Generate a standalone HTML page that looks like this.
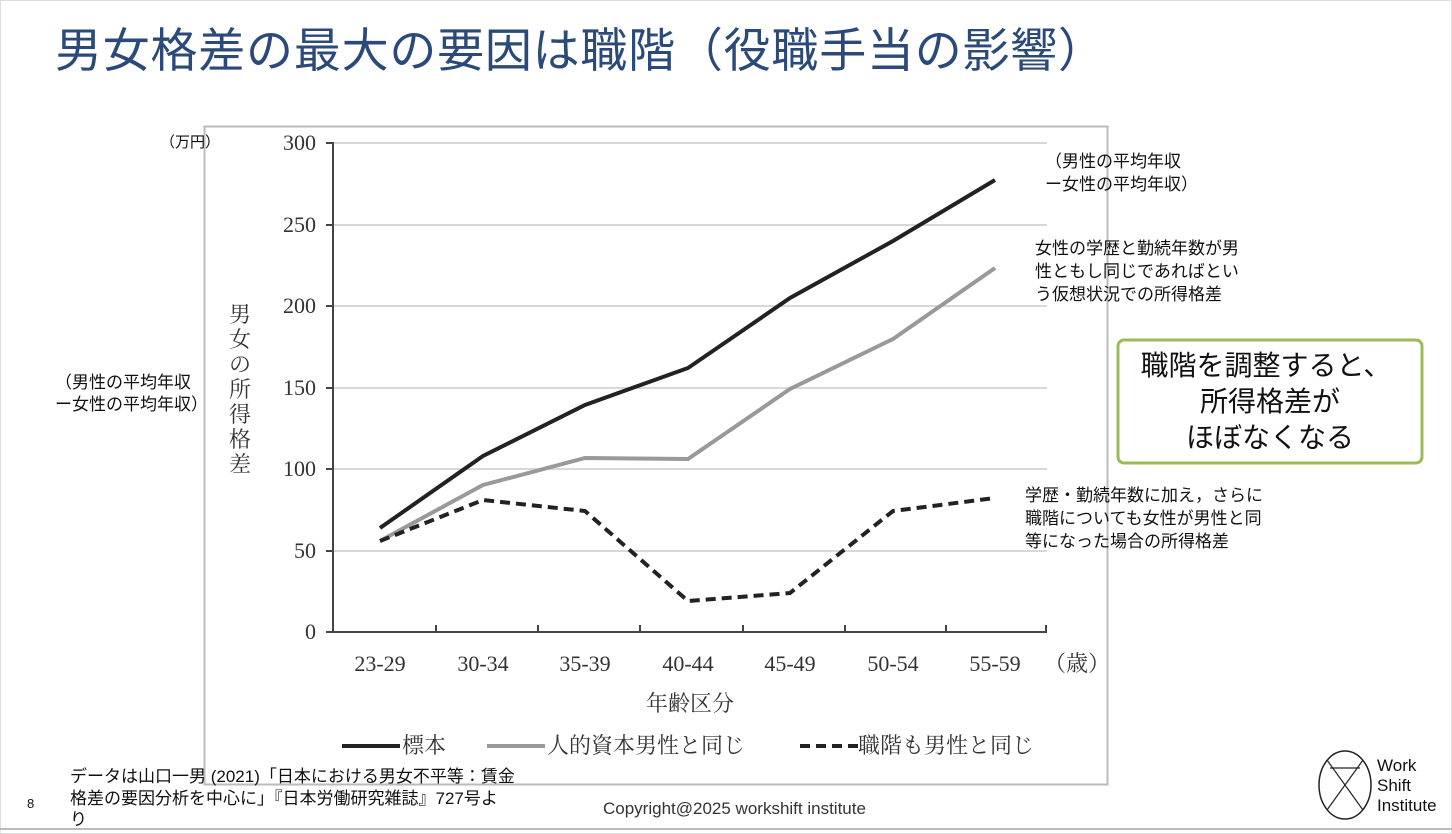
<!DOCTYPE html>
<html><head><meta charset="utf-8"><style>
body{margin:0;width:1452px;height:834px;background:#fff;overflow:hidden;font-family:"Liberation Sans","Noto Sans CJK JP",sans-serif;}
svg{position:absolute;left:0;top:0}
</style></head><body>
<svg width="1452" height="834" xmlns="http://www.w3.org/2000/svg" font-family="Liberation Sans, Noto Sans CJK JP, sans-serif">
<rect x="0.5" y="0.5" width="1451" height="833" fill="none" stroke="#ddd"/>
<text x="55" y="67" font-size="47" fill="#2b4a7a" textLength="1050">男女格差の最大の要因は職階（役職手当の影響）</text>
<rect x="204.5" y="126.5" width="903" height="658" fill="#fff" stroke="#bbb" stroke-width="2"/>
<g stroke="#ccc" stroke-width="1.5">
<line x1="333" y1="143" x2="1047" y2="143"/><line x1="333" y1="225" x2="1047" y2="225"/><line x1="333" y1="306" x2="1047" y2="306"/><line x1="333" y1="388" x2="1047" y2="388"/><line x1="333" y1="469" x2="1047" y2="469"/><line x1="333" y1="551" x2="1047" y2="551"/>
</g>
<g stroke="#444" stroke-width="2">
<line x1="333" y1="142" x2="333" y2="633"/><line x1="332" y1="632" x2="1047" y2="632"/>
<line x1="326" y1="143" x2="333" y2="143"/><line x1="326" y1="225" x2="333" y2="225"/><line x1="326" y1="306" x2="333" y2="306"/><line x1="326" y1="388" x2="333" y2="388"/><line x1="326" y1="469" x2="333" y2="469"/><line x1="326" y1="551" x2="333" y2="551"/><line x1="326" y1="632" x2="333" y2="632"/>
<line x1="436" y1="625" x2="436" y2="632"/><line x1="538" y1="625" x2="538" y2="632"/><line x1="640" y1="625" x2="640" y2="632"/><line x1="743" y1="625" x2="743" y2="632"/><line x1="845" y1="625" x2="845" y2="632"/><line x1="946" y1="625" x2="946" y2="632"/><line x1="1046" y1="625" x2="1046" y2="632"/>
</g>
<g font-family="Liberation Serif, Noto Serif CJK SC, serif" font-size="22" fill="#333" text-anchor="end">
<text x="316" y="150">300</text><text x="316" y="232">250</text><text x="316" y="313">200</text><text x="316" y="395">150</text><text x="316" y="476">100</text><text x="316" y="558">50</text><text x="316" y="639">0</text>
</g>
<g font-family="Liberation Serif, Noto Serif CJK SC, serif" font-size="22" fill="#333" text-anchor="middle">
<text x="380" y="671">23-29</text><text x="483" y="671">30-34</text><text x="585" y="671">35-39</text><text x="688" y="671">40-44</text><text x="790" y="671">45-49</text><text x="893" y="671">50-54</text><text x="995" y="671">55-59</text>
<text x="1077" y="671">（歳）</text>
<text x="690" y="711">年齢区分</text>
</g>
<g font-family="Noto Serif CJK SC, serif" font-size="22" fill="#333" text-anchor="middle">
<text x="240" y="322">男</text><text x="240" y="347">女</text><text x="240" y="372">の</text><text x="240" y="397">所</text><text x="240" y="422">得</text><text x="240" y="447">格</text><text x="240" y="472">差</text>
</g>
<polyline fill="none" stroke="#222" stroke-width="4" points="380,528 483,456 585,405 688,368 790,298 893,241 995,180"/>
<polyline fill="none" stroke="#999" stroke-width="4" points="380,541 483,485 585,458 688,459 790,389 893,339 995,268"/>
<polyline fill="none" stroke="#222" stroke-width="4" stroke-dasharray="10,6" points="380,541 483,500 585,511 688,601 790,593 893,511 995,498"/>
<line x1="342" y1="746" x2="400" y2="746" stroke="#222" stroke-width="4"/>
<line x1="487" y1="746" x2="545" y2="746" stroke="#999" stroke-width="4"/>
<line x1="800" y1="746" x2="858" y2="746" stroke="#222" stroke-width="4" stroke-dasharray="10,6"/>
<g font-family="Noto Serif CJK SC, serif" font-size="22" fill="#333">
<text x="402" y="753">標本</text><text x="547" y="753">人的資本男性と同じ</text><text x="858" y="753">職階も男性と同じ</text>
</g>
<g font-size="17" fill="#111">
<text x="160" y="147" font-size="15">（万円）</text>
<text x="55" y="388">（男性の平均年収</text><text x="55" y="410">ー女性の平均年収）</text>
<text x="1045" y="167">（男性の平均年収</text><text x="1045" y="190">ー女性の平均年収）</text>
<text x="1035" y="254">女性の学歴と勤続年数が男</text><text x="1035" y="277">性ともし同じであればとい</text><text x="1035" y="300">う仮想状況での所得格差</text>
<text x="1025" y="501">学歴・勤続年数に加え，さらに</text><text x="1025" y="524">職階についても女性が男性と同</text><text x="1025" y="547">等になった場合の所得格差</text>
<text x="70" y="782">データは山口一男 (2021)「日本における男女不平等：賃金</text><text x="70" y="804">格差の要因分析を中心に」『日本労働研究雑誌』727号よ</text><text x="70" y="825">り</text>
<text x="27" y="808" font-size="13">8</text>
<text x="603" y="814" fill="#333">Copyright@2025 workshift institute</text>
</g>
<rect x="1118" y="340" width="304" height="123" rx="6" fill="#fff" stroke="#9bbb59" stroke-width="3"/>
<g font-size="28" fill="#111" text-anchor="middle">
<text x="1266" y="375">職階を調整すると、</text><text x="1270" y="411">所得格差が</text><text x="1270" y="447">ほぼなくなる</text>
</g>
<ellipse cx="1345" cy="785" rx="26" ry="34" fill="none" stroke="#222" stroke-width="1.5"/>
<line x1="1327" y1="760" x2="1363" y2="810" stroke="#222" stroke-width="1.2"/><line x1="1363" y1="760" x2="1327" y2="810" stroke="#222" stroke-width="1.2"/><line x1="1330" y1="768" x2="1360" y2="768" stroke="#222" stroke-width="1.2"/>
<g font-size="17" fill="#111"><text x="1377" y="771">Work</text><text x="1377" y="791">Shift</text><text x="1377" y="811">Institute</text></g>
<line x1="0" y1="829" x2="1452" y2="829" stroke="#bbb" stroke-width="2"/>
</svg>
</body></html>
